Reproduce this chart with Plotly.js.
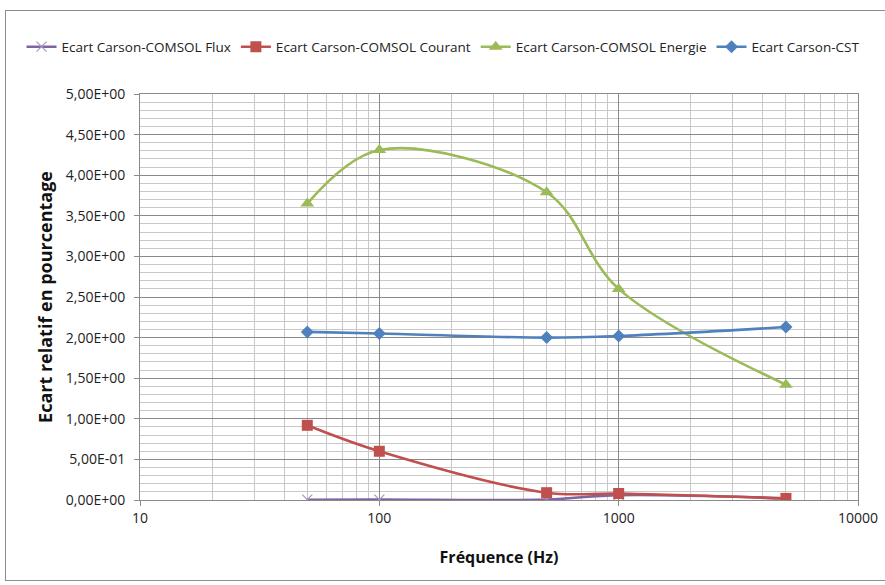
<!DOCTYPE html>
<html><head><meta charset="utf-8">
<script src="https://cdn.plot.ly/plotly-3.0.1.min.js"></script>
<style>
html,body{margin:0;padding:0;background:#fff;}
#chart{width:885px;height:585px;}
#frame{position:absolute;left:5px;top:10px;width:890px;height:569px;border:1px solid #8c8c8c;pointer-events:none;}
</style></head>
<body>
<div id="chart"></div>
<div id="frame"></div>
<script>
const freq = [50, 100, 500, 1000, 5000];
const flux = [0.004, 0.005, 0.006, 0.06, 0.02];
const courant = [0.92, 0.60, 0.09, 0.08, 0.02];
const energie = [3.65, 4.31, 3.79, 2.60, 1.42];
const cst = [2.07, 2.05, 2.00, 2.02, 2.13];
const seriesNames = ["Ecart Carson-COMSOL Flux","Ecart Carson-COMSOL Courant","Ecart Carson-COMSOL Energie","Ecart Carson-CST"];
const yTickVals = [0,0.5,1,1.5,2,2.5,3,3.5,4,4.5,5];
const yTickText = ["0,00E+00","5,00E-01","1,00E+00","1,50E+00","2,00E+00","2,50E+00","3,00E+00","3,50E+00","4,00E+00","4,50E+00","5,00E+00"];
const xTickVals = [10,100,1000,10000];
const xTickText = ["10","100","1000","10000"];

const font = "'Open Sans', Lato, sans-serif";
function tr(y, name, color, symbol, size, mline){
  return {x:freq, y:y, name:name, type:'scatter', mode:'lines+markers',
    line:{color:color, width:2.6, shape:'spline', smoothing:1},
    marker:{symbol:symbol, size:size, color:color, line:{color:mline||color, width:mline?1.2:0}}};
}
const data = [
  tr(flux, seriesNames[0], '#8064A2', 'x-thin', 10, '#A796C4'),
  tr(courant, seriesNames[1], '#C0504D', 'square', 11),
  tr(energie, seriesNames[2], '#9BBB59', 'triangle-up', 12),
  tr(cst, seriesNames[3], '#4F81BD', 'diamond', 10)
];
const layout = {
  width:885, height:585,
  margin:{l:140, r:27, t:94, b:85},
  paper_bgcolor:'#fff', plot_bgcolor:'#fff',
  font:{family:font, size:13, color:'#222'},
  showlegend:true,
  legend:{orientation:'h', x:-0.165, xanchor:'left', y:1.116, yanchor:'middle',
    font:{family:font, size:13.5, color:'#222'}, itemwidth:30, tracegroupgap:0, bgcolor:'rgba(0,0,0,0)'},
  xaxis:{type:'log', range:[1,4], tickvals:xTickVals, ticktext:xTickText,
    showgrid:true, gridcolor:'#8a8a8a', gridwidth:1,
    minor:{dtick:'D1', showgrid:true, gridcolor:'#c8c8c8', gridwidth:1, ticks:''},
    showline:true, linecolor:'#8a8a8a', mirror:true, ticks:'outside', ticklen:5, tickcolor:'#8a8a8a',
    tickfont:{family:font, size:14, color:'#222'}, zeroline:false,
    title:{text:'<b>Fréquence (Hz)</b>', font:{family:font, size:16, color:'#111'}, standoff:26}},
  yaxis:{range:[0,5], tickvals:yTickVals, ticktext:yTickText,
    showgrid:true, gridcolor:'#8a8a8a', gridwidth:1,
    minor:{dtick:0.1, showgrid:true, gridcolor:'#c8c8c8', gridwidth:1, ticks:''},
    showline:true, linecolor:'#8a8a8a', mirror:true, ticks:'outside', ticklen:5, tickcolor:'#8a8a8a',
    ticklabelstandoff:6,
    tickfont:{family:font, size:14, color:'#222'}, zeroline:false,
    title:{text:'<b>Ecart relatif en pourcentage</b>', font:{family:font, size:18, color:'#111'}, standoff:8}}
};
Plotly.newPlot('chart', data, layout, {displayModeBar:false, staticPlot:true});
</script>
</body></html>
